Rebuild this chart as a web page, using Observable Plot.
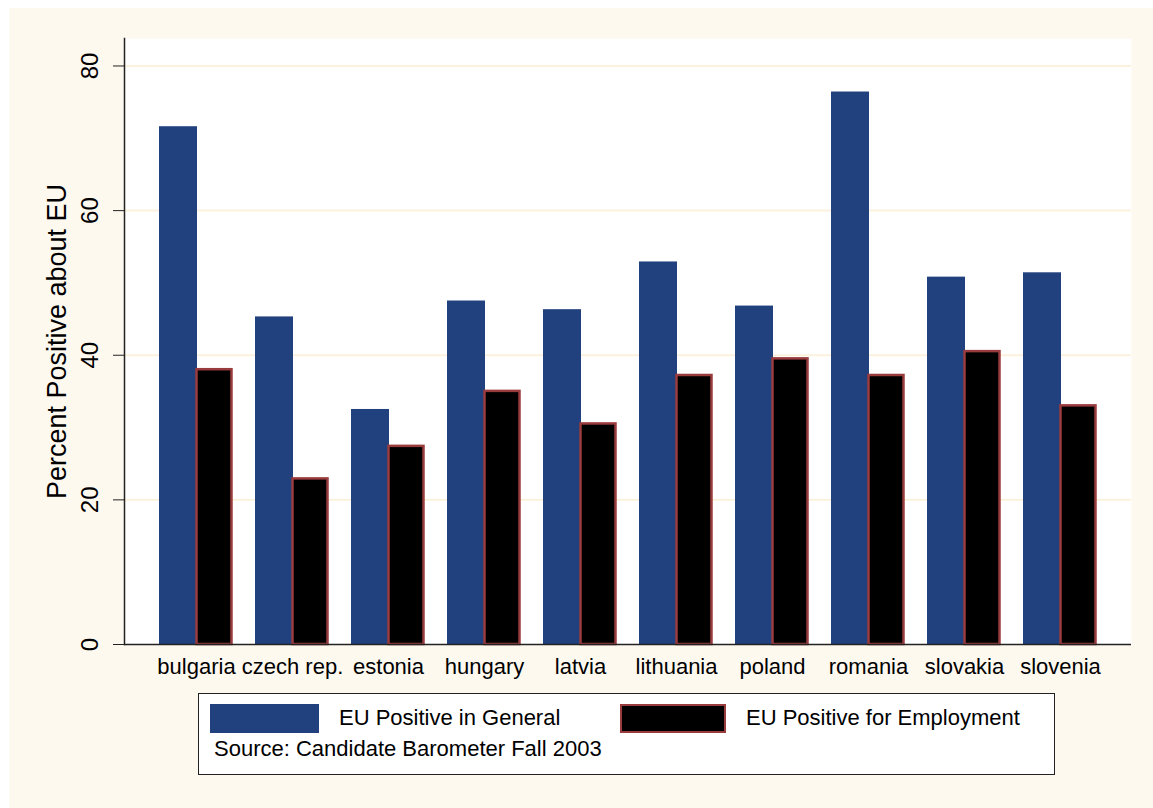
<!DOCTYPE html>
<html>
<head>
<meta charset="utf-8">
<script src="https://cdn.jsdelivr.net/npm/d3@7"></script>
<script src="https://cdn.jsdelivr.net/npm/@observablehq/plot@0.6"></script>
<style>
  html, body { margin: 0; padding: 0; background: #ffffff; }
  body { width: 1153px; height: 808px; position: relative; overflow: hidden;
         font-family: "Liberation Sans", Arial, sans-serif; }
  #bg { position: absolute; left: 9px; top: 8px; width: 1144px; height: 800px; background: #fef9ef; }
  #chart { position: absolute; left: 0; top: 0; }
  #legend { position: absolute; left: 198px; top: 693px; width: 855px; height: 80px;
            border: 1.5px solid #222; background: #ffffff; }
  .sw { position: absolute; top: 10px; height: 29px; box-sizing: border-box; }
  .lt { position: absolute; font-size: 22px; line-height: 22px; color: #000; white-space: nowrap; }
</style>
</head>
<body>
<div id="bg"></div>
<div id="chart"></div>
<div id="legend"></div>
<script>
const countries = ["bulgaria", "czech rep.", "estonia", "hungary", "latvia", "lithuania", "poland", "romania", "slovakia", "slovenia"];
const generalValues = [71.6, 45.3, 32.5, 47.5, 46.3, 52.9, 46.8, 76.4, 50.8, 51.4];
const employmentValues = [38.0, 22.9, 27.4, 35.0, 30.5, 37.2, 39.5, 37.2, 40.5, 33.0];
const yTicks = [0, 20, 40, 60, 80];
const seriesNames = ["EU Positive in General", "EU Positive for Employment"];
const yTitle = "Percent Positive about EU";
const sourceNote = "Source: Candidate Barometer Fall 2003";

const blue = "#21407e";
const black = "#000000";
const maroon = "#9a3b3d";

const general = countries.map((c, i) => ({country: c, value: generalValues[i]}));
const employment = countries.map((c, i) => ({country: c, value: employmentValues[i]}));

const chart = Plot.plot({
  width: 1153,
  height: 680,
  marginLeft: 124,
  marginRight: 22,
  marginTop: 38,
  marginBottom: 36,
  style: {background: "transparent", fontFamily: "'Liberation Sans', Arial, sans-serif", color: "#000"},
  x: {type: "band", domain: countries, paddingInner: 0.23, paddingOuter: 0.355},
  y: {domain: [0, 83.8]},
  marks: [
    Plot.frame({fill: "#ffffff", stroke: null}),
    Plot.gridY(yTicks.slice(1), {stroke: "#fbf1dd", strokeOpacity: 1, strokeWidth: 2}),
    Plot.barY(general, {x: "country", y: "value", fill: blue, insetRight: 36}),
    Plot.barY(employment, {x: "country", y: "value", fill: black, stroke: maroon, strokeWidth: 2.5, insetLeft: 37.5, insetRight: 1.5}),
    Plot.ruleY([0], {stroke: "#222", strokeWidth: 1.5}),
    Plot.frame({anchor: "left", stroke: "#222", strokeWidth: 1.5}),
    Plot.axisY({ticks: yTicks, tickSize: 11, tickRotate: -90, fontSize: 24, tickPadding: 16, label: null, stroke: "#222"}),
    Plot.text([yTitle], {frameAnchor: "left", textAnchor: "middle", rotate: -90, dx: -67, fontSize: 27, fill: "#000"}),
    Plot.axisX({tickSize: 0, tickPadding: 14, fontSize: 22, label: null})
  ]
});
document.getElementById("chart").appendChild(chart);

const legend = document.getElementById("legend");
const items = [
  {name: seriesNames[0], fill: blue, stroke: null, swLeft: 11, swWidth: 109, textLeft: 140},
  {name: seriesNames[1], fill: black, stroke: maroon, swLeft: 421, swWidth: 106, textLeft: 547}
];
for (const it of items) {
  const sw = document.createElement("div");
  sw.className = "sw";
  sw.style.left = it.swLeft + "px";
  sw.style.width = it.swWidth + "px";
  sw.style.background = it.fill;
  if (it.stroke) sw.style.border = "2.5px solid " + it.stroke;
  legend.appendChild(sw);
  const t = document.createElement("div");
  t.className = "lt";
  t.style.left = it.textLeft + "px";
  t.style.top = "13px";
  t.textContent = it.name;
  legend.appendChild(t);
}
const src = document.createElement("div");
src.className = "lt";
src.style.left = "15px";
src.style.top = "44px";
src.textContent = sourceNote;
legend.appendChild(src);
</script>
</body>
</html>
